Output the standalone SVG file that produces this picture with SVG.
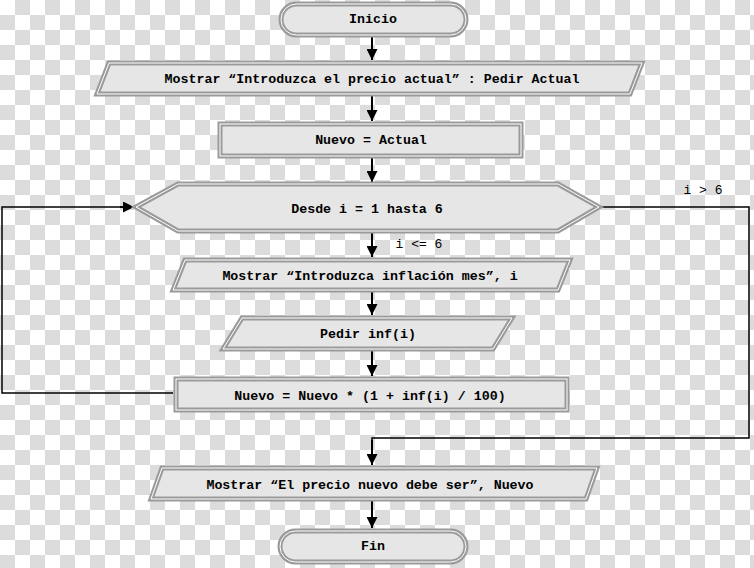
<svg xmlns="http://www.w3.org/2000/svg" width="754" height="568" viewBox="0 0 754 568">
<defs>
<pattern id="checker" x="0" y="0" width="30" height="30" patternUnits="userSpaceOnUse">
<rect width="30" height="30" fill="#ffffff"/>
<rect x="15" y="0" width="15" height="15" fill="#dcdcdc"/>
<rect x="0" y="15" width="15" height="15" fill="#dcdcdc"/>
</pattern>
<marker id="arr" viewBox="0 0 10 10" refX="10" refY="5" markerWidth="11" markerHeight="11" markerUnits="userSpaceOnUse" orient="auto">
<path d="M0,0 L10,5 L0,10 z" fill="#000"/>
</marker>
</defs>
<style>
.outer{fill:#e6e6e6;stroke:#9a9a9a;stroke-width:5}
.inner{fill:none;stroke:#ffffff;stroke-width:1}
.t{font-family:"Liberation Mono","Courier New",monospace;font-size:13.3px;font-weight:bold;fill:#000;text-anchor:middle}
.lbl{font-family:"Liberation Mono","Courier New",monospace;font-size:13px;fill:#000;text-anchor:middle}
.c{fill:none;stroke:#000;stroke-width:2}
.l{fill:none;stroke:#000;stroke-width:1.5}
</style>
<rect width="754" height="568" fill="url(#checker)"/>

<g id="connectors">
<line class="c" x1="372" y1="36" x2="372" y2="60" marker-end="url(#arr)"/>
<line class="c" x1="372" y1="95" x2="372" y2="121" marker-end="url(#arr)"/>
<line class="c" x1="372" y1="157" x2="372" y2="182" marker-end="url(#arr)"/>
<line class="c" x1="372" y1="232" x2="372" y2="257" marker-end="url(#arr)"/>
<line class="c" x1="372" y1="291" x2="372" y2="315" marker-end="url(#arr)"/>
<line class="c" x1="372" y1="351" x2="372" y2="376" marker-end="url(#arr)"/>
<polyline class="l" points="173,393 2,393 2,207 126,207"/>
<line class="c" x1="120" y1="207" x2="134" y2="207" marker-end="url(#arr)"/>
<polyline class="l" points="600,207 749,207 749,438 372,438 372,452"/>
<line class="c" x1="372" y1="440" x2="372" y2="465" marker-end="url(#arr)"/>
<line class="c" x1="372" y1="500" x2="372" y2="528" marker-end="url(#arr)"/>
<text class="lbl" x="419" y="248">i &lt;= 6</text>
<text class="lbl" x="703" y="194">i &gt; 6</text>
</g>

<g id="inicio">
<rect class="outer" x="281" y="4" width="185" height="31" rx="15.5"/>
<rect class="inner" x="281" y="4" width="185" height="31" rx="15.5"/>
<text class="t" x="373" y="23">Inicio</text>
</g>

<g id="pedir-actual">
<polygon class="outer" points="109,63 642,63 630,94 97,94"/>
<polygon class="inner" points="109,63 642,63 630,94 97,94"/>
<text class="t" x="372" y="83">Mostrar “Introduzca el precio actual” : Pedir Actual</text>
</g>

<g id="nuevo-actual">
<rect class="outer" x="220" y="124" width="301" height="32"/>
<rect class="inner" x="220" y="124" width="301" height="32"/>
<text class="t" x="371" y="144">Nuevo = Actual</text>
</g>

<g id="desde">
<polygon class="outer" points="136,207 178,184 558,184 599,207 558,231 178,231"/>
<polygon class="inner" points="136,207 178,184 558,184 599,207 558,231 178,231"/>
<text class="t" x="367" y="213">Desde i = 1 hasta 6</text>
</g>

<g id="mostrar-inflacion">
<polygon class="outer" points="185,260 570,260 558,290 173,290"/>
<polygon class="inner" points="185,260 570,260 558,290 173,290"/>
<text class="t" x="370" y="280">Mostrar “Introduzca inflación mes”, i</text>
</g>

<g id="pedir-inf">
<polygon class="outer" points="242,318 512,318 493,349 223,349"/>
<polygon class="inner" points="242,318 512,318 493,349 223,349"/>
<text class="t" x="368" y="338">Pedir inf(i)</text>
</g>

<g id="nuevo-calc">
<rect class="outer" x="176" y="379" width="391" height="31"/>
<rect class="inner" x="176" y="379" width="391" height="31"/>
<text class="t" x="370" y="400">Nuevo = Nuevo * (1 + inf(i) / 100)</text>
</g>

<g id="mostrar-nuevo">
<polygon class="outer" points="162,468 597,468 586,499 151,499"/>
<polygon class="inner" points="162,468 597,468 586,499 151,499"/>
<text class="t" x="370" y="489">Mostrar “El precio nuevo debe ser”, Nuevo</text>
</g>

<g id="fin">
<rect class="outer" x="280" y="531" width="186" height="31" rx="15.5"/>
<rect class="inner" x="280" y="531" width="186" height="31" rx="15.5"/>
<text class="t" x="373" y="550">Fin</text>
</g>
</svg>
